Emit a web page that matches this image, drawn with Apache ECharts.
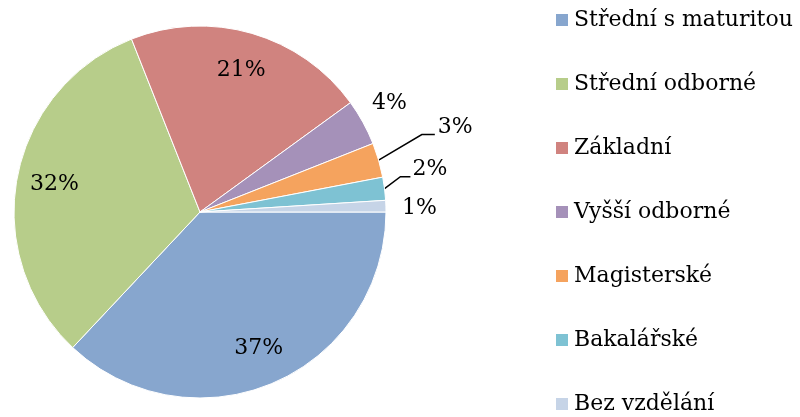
<!DOCTYPE html>
<html>
<head>
<meta charset="utf-8">
<script src="https://cdn.jsdelivr.net/npm/echarts@6/dist/echarts.min.js"></script>
<style>
  html, body { margin: 0; padding: 0; background: #fff; }
  #chart { width: 800px; height: 417px; }
</style>
</head>
<body>
<div id="chart"></div>
<script>
// Education level shares (%)
const categories = ['Střední s maturitou', 'Střední odborné', 'Základní', 'Vyšší odborné', 'Magisterské', 'Bakalářské', 'Bez vzdělání'];
const shares = [37, 32, 21, 4, 3, 2, 1];
const colors = ['#87A6CE', '#B7CD8A', '#D0837F', '#A591B9', '#F5A35E', '#7EC2D3', '#C6D4E7'];

const FONT = '"DejaVu Serif", serif';
const CX = 200, CY = 212, R = 186;

// Small slices get outside labels; lineLift bends the leader line upward,
// textLift raises the label above the line end.
const outerCfg = {
  3: { line: false, len: 40, len2: -26, dist: 0, lineLift: 0, textLift: 0 },
  4: { line: true, len: 45, len2: 13, dist: 3, lineLift: 13, textLift: 20 },
  5: { line: true, len: 16, len2: 10, dist: 2, lineLift: 10, textLift: 17 },
  6: { line: false, len: 12, len2: 2, dist: 2, lineLift: 0, textLift: -3 }
};

const mainData = shares.map((v, i) => {
  const item = { name: categories[i], value: v, itemStyle: { color: colors[i] } };
  const c = outerCfg[i];
  if (c) {
    item.label = { show: true, position: 'outside', distanceToLabelLine: c.dist };
    item.labelLine = { show: c.line, length: c.len, length2: c.len2 };
  } else {
    item.label = { show: false };
    item.labelLine = { show: false };
  }
  return item;
});

// transparent ring used only to place the large-slice labels further out
const ringData = shares.map((v, i) => ({
  name: categories[i],
  value: v,
  itemStyle: { color: 'rgba(0,0,0,0)', borderWidth: 0 },
  label: { show: !outerCfg[i] }
}));

function bendLabels(params) {
  const c = params.seriesIndex === 0 ? outerCfg[params.dataIndex] : null;
  if (!c) return { hideOverlap: false };
  const out = { hideOverlap: false, moveOverlap: false, dy: -c.textLift };
  const pts = params.labelLinePoints;
  if (c.line && pts && pts.length === 3) {
    out.labelLinePoints = [
      [pts[0][0], pts[0][1]],
      [pts[1][0], pts[1][1] - c.lineLift],
      [pts[2][0], pts[2][1] - c.lineLift]
    ];
  }
  return out;
}

const chart = echarts.init(document.getElementById('chart'), null, { renderer: 'canvas' });
chart.setOption({
  animation: false,
  legend: {
    orient: 'vertical',
    left: 554,
    top: 9,
    padding: 0,
    itemWidth: 14,
    itemHeight: 14,
    itemGap: 42,
    icon: 'rect',
    selectedMode: false,
    data: categories,
    textStyle: { fontFamily: FONT, fontSize: 22, color: '#000' }
  },
  series: [
    {
      type: 'pie',
      center: [CX, CY],
      radius: [0, R],
      startAngle: 0,
      clockwise: true,
      avoidLabelOverlap: false,
      data: mainData,
      itemStyle: { borderColor: '#fff', borderWidth: 1 },
      label: {
        formatter: '{c}%',
        fontFamily: FONT,
        fontSize: 22,
        color: '#000'
      },
      labelLine: { lineStyle: { color: '#000', width: 1.5 }, smooth: false },
      labelLayout: bendLabels
    },
    {
      type: 'pie',
      silent: true,
      center: [CX, CY],
      radius: [R * 0.56, R],
      startAngle: 0,
      clockwise: true,
      avoidLabelOverlap: false,
      legendHoverLink: false,
      data: ringData,
      label: {
        position: 'inside',
        formatter: '{c}%',
        fontFamily: FONT,
        fontSize: 22,
        color: '#000'
      },
      labelLine: { show: false }
    }
  ]
});
</script>
</body>
</html>
